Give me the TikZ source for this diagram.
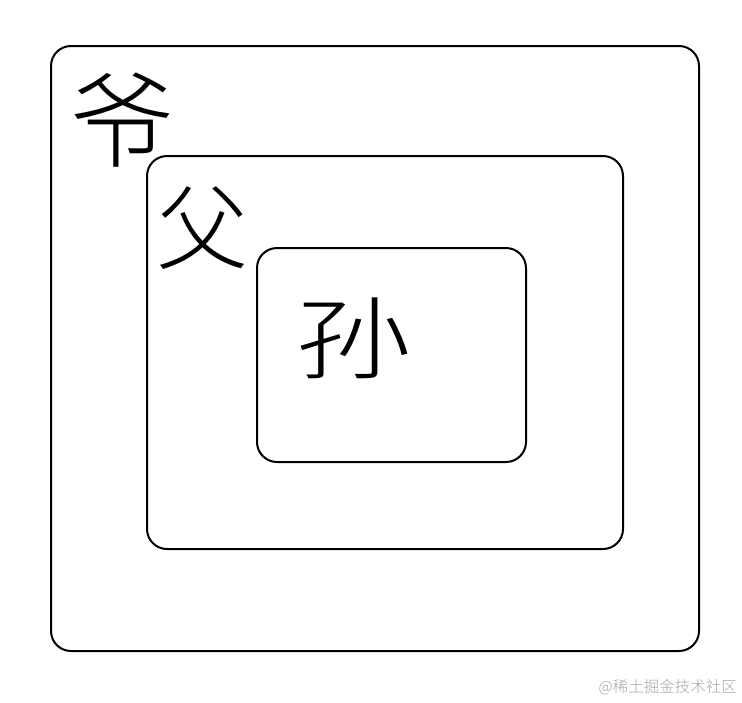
\documentclass[tikz,border=0pt]{standalone}
\usepackage{fontspec}
\newfontfamily\cjk{Noto Sans CJK SC Light}
\tikzset{
  box/.style={draw, line width=2pt, rounded corners=20pt},
  hanzi/.style={font=\cjk, inner sep=0pt},
}
\begin{document}
\begin{tikzpicture}[x=1pt,y=-1pt]
        \useasboundingbox (0,0) rectangle (742,702);
        \draw[box] (51,46) rectangle (699,651);
        \draw[box] (147,156) rectangle (623,549);
        \draw[box] (257,248) rectangle (526,462);
        \node[hanzi, font=\cjk\fontsize{104}{104}\selectfont] (ye) at (122,120) {爷};
        \node[hanzi, font=\cjk\fontsize{92}{92}\selectfont] (fu) at (202,228) {父};
        \node[hanzi, font=\cjk\fontsize{90}{90}\selectfont, xscale=1.3] (sun) at (354,338) {孙};
        \node[anchor=east, inner sep=0pt, text=black!35, font=\cjk\fontsize{15.5}{15.5}\selectfont] (mark) at (737,687) {@稀土掘金技术社区};
    \end{tikzpicture}
\end{document}
